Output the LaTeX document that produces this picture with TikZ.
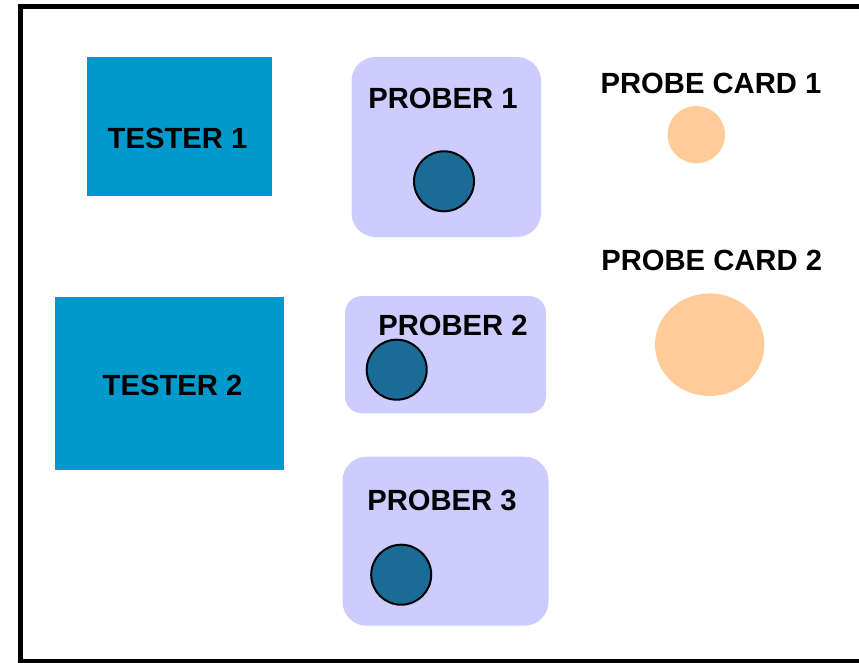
\documentclass[tikz,border=0pt]{standalone}
\usepackage{fontspec}
\setmainfont{Liberation Sans}
\usetikzlibrary{shapes.geometric}
\definecolor{tester}{HTML}{0099CC}
\definecolor{prober}{HTML}{CCCCFF}
\definecolor{wafer}{HTML}{1B6B97}
\definecolor{card}{HTML}{FFCC99}
\tikzset{
  lbl/.style={font=\fontsize{29.2}{34}\selectfont\bfseries, inner sep=0pt, text=black},
  testerbox/.style={fill=tester, draw=none, inner sep=0pt},
  proberbox/.style={fill=prober, draw=none, rounded corners=24pt},
  waferdot/.style={circle, fill=wafer, draw=black, line width=2pt, minimum size=60pt, inner sep=0pt},
  carddot/.style={fill=card, draw=none},
  frameline/.style={draw=black, line width=5pt}
}
\begin{document}
\begin{tikzpicture}[x=1pt,y=-1pt]
\useasboundingbox (0,0) rectangle (859,663);
\clip (0,0) rectangle (859,663);
\fill[white] (0,0) rectangle (859,663);
% frame
\coordinate (ftr) at (880,6.5);
\coordinate (ftl) at (20.5,6.5);
\coordinate (fbl) at (20.5,661.8);
\coordinate (fbr) at (880,661.8);
\draw[frameline] (ftr) -- (ftl) -- (fbl) -- (fbr);
% testers
\fill[testerbox] (87,57) rectangle (271.5,196);
\node[lbl] (t1) at (177.5,138.8) {TESTER 1};
\fill[testerbox] (55,297) rectangle (284.3,470);
\node[lbl] (t2) at (172.5,385) {TESTER 2};
% probers
\fill[proberbox] (351.5,57) rectangle (541,237);
\node[lbl] (p1) at (443,98.8) {PROBER 1};
\node[waferdot] (w1) at (444,181.3) {};
\fill[proberbox, rounded corners=17pt] (345,296) rectangle (546,413.3);
\node[lbl] (p2) at (453,325.5) {PROBER 2};
\node[waferdot] (w2) at (396.7,369.7) {};
\fill[proberbox] (342.5,456.7) rectangle (548.5,625.7);
\node[lbl] (p3) at (442,500) {PROBER 3};
\node[waferdot] (w3) at (401.2,574.7) {};
% probe cards
\node[lbl] (c1) at (711,83.3) {PROBE CARD 1};
\fill[carddot] (696.3,134.7) circle (28.7);
\node[lbl] (c2) at (711.7,260) {PROBE CARD 2};
\fill[carddot] (709.7,344.7) ellipse [x radius=54.7, y radius=51.3];
\end{tikzpicture}
\end{document}
